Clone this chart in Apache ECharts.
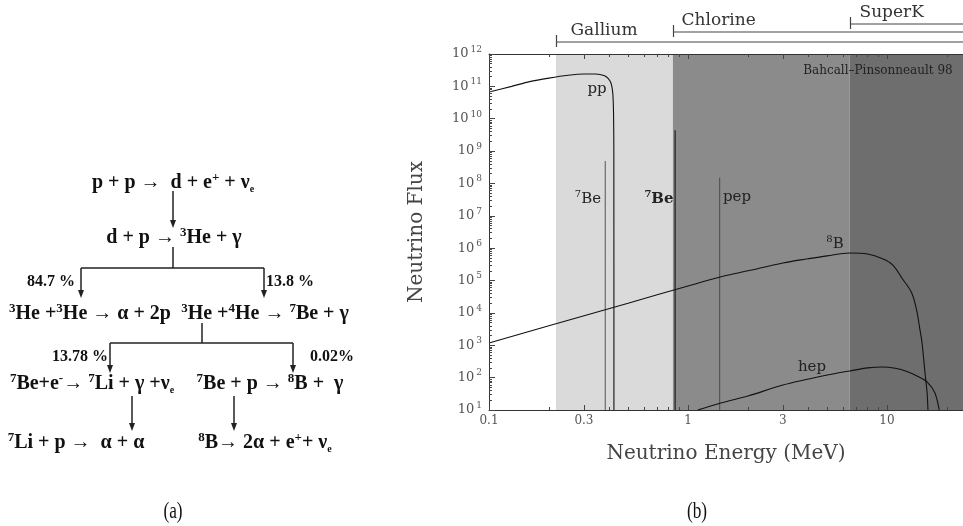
<!DOCTYPE html>
<html><head><meta charset="utf-8">
<script src="https://cdn.jsdelivr.net/npm/echarts@6/dist/echarts.min.js"></script>
<style>html,body{margin:0;padding:0;background:#fff}#c{width:963px;height:526px}</style>
</head><body><div id="c"></div>
<script>
// ---------- data ----------
const ppEnergy = [0.1, 0.13, 0.16, 0.2, 0.25, 0.3, 0.34, 0.37, 0.39, 0.405, 0.413, 0.419, 0.4225, 0.424, 0.4245];
const ppFlux   = [6.7e10, 1.0e11, 1.4e11, 1.8e11, 2.2e11, 2.4e11, 2.4e11, 2.25e11, 1.95e11, 1.5e11, 1.1e11, 6e10, 1.5e10, 1e9, 10];
const b8Energy = [0.1, 0.2, 0.5, 1, 1.5, 2, 3, 4, 5, 6.5, 8, 9.5, 10.7, 12, 13.3, 14.1, 14.6, 15, 15.6, 15.9, 16.07];
const b8Flux   = [1.17e3, 4.0e3, 2.0e4, 6.8e4, 1.35e5, 2.0e5, 3.5e5, 4.7e5, 5.8e5, 7.1e5, 6.6e5, 4.7e5, 3.0e5, 1.1e5, 4.2e4, 1.2e4, 3.4e3, 1.2e3, 105, 36, 10];
const hepEnergy = [1.12, 1.46, 2, 3, 5, 6.5, 8, 9.5, 11, 12.6, 14.5, 15.9, 17.4, 18.3];
const hepFlux   = [10, 16.5, 27, 59, 120, 161, 200, 214, 195, 155, 105, 74, 34, 10];
const lineNames  = ['7Be', '7Be', 'pep'];
const lineEnergy = [0.384, 0.862, 1.442];
const lineFlux   = [4.9e8, 4.4e9, 1.5e8];
const detectorNames     = ['Gallium', 'Chlorine', 'SuperK'];
const detectorThreshold = [0.217, 0.84, 6.5];
const xTickValues   = [0.1, 0.3, 1, 3, 10];
const xMinorValues  = [0.2, 0.4, 0.5, 0.6, 0.7, 0.8, 0.9, 2, 4, 5, 6, 7, 8, 9, 20];
const yTickExponents = [1, 2, 3, 4, 5, 6, 7, 8, 9, 10, 11, 12];
const xRange = [0.1, 24.1];
const yRange = [10, 1e12];
const sourceLabel = 'Bahcall\u2013Pinsonneault 98';

// ---------- styles ----------
const serif = '"Liberation Serif","Times New Roman",serif';
const slab = '"DejaVu Serif",serif';
const L = Math.log10;
const regionColors = ['#dadada', '#8b8b8b', '#6e6e6e'];

const chart = echarts.init(document.getElementById('c'), null, {renderer: 'canvas'});

const yMinor = [];
for (let n = yTickExponents[0]; n < yTickExponents[yTickExponents.length - 1]; n++)
  for (let k = 2; k <= 9; k++) yMinor.push(n + L(k));

const lx = [L(xRange[0]), L(xRange[1])];
const ly = [L(yRange[0]), L(yRange[1])];

function tickAxisX(position, vals, len, showLine, showLabel, extra) {
  return Object.assign({
    type: 'value', gridIndex: 0, position, min: lx[0], max: lx[1], z: 10,
    axisLine: {show: showLine, onZero: false, lineStyle: {color: '#333', width: 1}},
    axisTick: {show: true, inside: true, length: len, customValues: vals, lineStyle: {color: '#444'}},
    axisLabel: {show: showLabel, customValues: vals, margin: 5, fontFamily: slab, fontSize: 12, color: '#555',
      formatter: v => String(Number(Math.pow(10, v).toPrecision(2)))},
    splitLine: {show: false}, splitArea: {show: false}
  }, extra || {});
}
function tickAxisY(vals, len, showLine, showLabel, extra) {
  return Object.assign({
    type: 'value', gridIndex: 0, position: 'left', min: ly[0], max: ly[1], z: 10,
    axisLine: {show: showLine, onZero: false, lineStyle: {color: '#333', width: 1}},
    axisTick: {show: true, inside: true, length: len, customValues: vals, lineStyle: {color: '#444'}},
    axisLabel: {show: showLabel, customValues: vals, margin: 7, fontFamily: slab, fontSize: 13, color: '#555', lineHeight: 18,
      formatter: v => '10{s|' + Math.round(v) + '}',
      rich: {s: {fontSize: 9, fontFamily: slab, color: '#555', verticalAlign: 'top', padding: [0, 0, 0, 2]}}},
    splitLine: {show: false}, splitArea: {show: false}
  }, extra || {});
}

const majorX = xTickValues.map(L);
const minorX = xMinorValues.map(L);

const series = [];
series.push({
  type: 'line', xAxisIndex: 0, yAxisIndex: 0, z: 1, silent: true,
  data: [[xRange[0], yRange[0]]], symbol: 'none', lineStyle: {opacity: 0},
  markArea: {silent: true, data: detectorThreshold.map((t, i) => [
    {xAxis: t, itemStyle: {color: regionColors[i], opacity: 1, borderWidth: 0}},
    {xAxis: i + 1 < detectorThreshold.length ? detectorThreshold[i + 1] : xRange[1]}
  ])}
});
const lineColors = ['#6a6a6a', '#3a3a3a', '#555'];
const lineWidths = [1.2, 1.6, 1.2];
lineEnergy.forEach((e, i) => {
  series.push({type: 'line', name: lineNames[i], xAxisIndex: 0, yAxisIndex: 0, z: 3, symbol: 'none', silent: true,
    data: [[e, yRange[0]], [e, lineFlux[i]]], lineStyle: {color: lineColors[i], width: lineWidths[i]}});
});
function curve(name, xs, ys, smooth) {
  return {type: 'line', name, xAxisIndex: 0, yAxisIndex: 0, z: 4, symbol: 'none', silent: true, smooth,
    data: xs.map((x, i) => [x, ys[i]]), lineStyle: {color: '#111', width: 1.1}};
}
series.push(curve('pp', ppEnergy, ppFlux, 0.25));
series.push(curve('8B', b8Energy, b8Flux, 0.35));
series.push(curve('hep', hepEnergy, hepFlux, 0.3));

const option = {
  backgroundColor: '#fff',
  animation: false,
  grid: {left: 489, top: 54, right: 0, height: 356},
  xAxis: [
    {type: 'log', logBase: 10, min: xRange[0], max: xRange[1], show: false, gridIndex: 0, axisLine: {onZero: false}},
    tickAxisX('bottom', majorX, 5, true, true, {
      name: 'Neutrino Energy (MeV)', nameLocation: 'middle', nameGap: 34,
      nameTextStyle: {fontFamily: slab, fontSize: 20, color: '#444'}}),
    tickAxisX('bottom', minorX, 3, false, false),
    tickAxisX('top', majorX, 5, true, false),
    tickAxisX('top', minorX, 3, false, false)
  ],
  yAxis: [
    {type: 'log', logBase: 10, min: yRange[0], max: yRange[1], show: false, gridIndex: 0, axisLine: {onZero: false}},
    tickAxisY(yTickExponents, 6, true, true, {
      name: 'Neutrino Flux', nameLocation: 'middle', nameGap: 62,
      nameTextStyle: {fontFamily: slab, fontSize: 20, color: '#444'}}),
    tickAxisY(yMinor, 3, false, false)
  ],
  series
};
chart.setOption(option);

// ---------- graphics ----------
const g = [];
function T(x, y, text, font, extra, el) {
  return Object.assign({type: 'text', x, y, z: 20, silent: true, style: Object.assign({
    text, font, fill: '#111', align: 'center', verticalAlign: 'middle',
    textAlign: 'center', textVerticalAlign: 'middle'}, extra || {})}, el || {});
}
function seg(x1, y1, x2, y2, color, w) {
  return {type: 'line', z: 20, silent: true, shape: {x1, y1, x2, y2}, style: {stroke: color || '#222', lineWidth: w || 1.5}};
}
function arrow(x, y1, y2) {
  g.push(seg(x, y1, x, y2 - 6));
  g.push({type: 'polygon', z: 20, silent: true, shape: {points: [[x - 3, y2 - 8], [x + 3, y2 - 8], [x, y2]]}, style: {fill: '#222'}});
}
const rsz = 20;
const reactRich = {
  s: {fontSize: 13, fontWeight: 'bold', fontFamily: serif, fill: '#111', color: '#111', verticalAlign: 'top'},
  b: {fontSize: 10, fontWeight: 'bold', fontFamily: serif, fill: '#111', color: '#111', verticalAlign: 'bottom'}
};
function R(x, y, text, size) {
  g.push(T(x, y, text, 'bold ' + (size || rsz) + 'px ' + serif, {lineHeight: 23, rich: reactRich}));
}
// pp chain diagram (a)
R(173, 183, 'p + p \u2192  d + e{s|+} + \u03BD{b|e}');
arrow(173, 191, 228);
R(174, 238, 'd + p \u2192 {s|3}He + \u03B3');
g.push(seg(173, 247, 173, 268));
g.push(seg(81, 268, 264, 268));
arrow(81, 268, 298);
arrow(264, 268, 298);
R(51, 282, '84.7 %', 16);
R(290, 282, '13.8 %', 16);
R(90, 314, '{s|3}He +{s|3}He \u2192 \u03B1 + 2p');
R(265, 314, '{s|3}He +{s|4}He \u2192 {s|7}Be + \u03B3');
g.push(seg(202, 323, 202, 343));
g.push(seg(110, 343, 293, 343));
arrow(110, 343, 373);
arrow(293, 343, 373);
R(80, 357, '13.78 %', 16);
R(332, 357, '0.02%', 16);
R(92, 384, '{s|7}Be+e{s|-}\u2192 {s|7}Li + \u03B3 +\u03BD{b|e}');
R(270, 384, '{s|7}Be + p \u2192 {s|8}B +  \u03B3');
arrow(132, 396, 431);
arrow(234, 396, 431);
R(76, 443, '{s|7}Li + p \u2192  \u03B1 + \u03B1');
R(265, 443, '{s|8}B\u2192 2\u03B1 + e{s|+}+ \u03BD{b|e}');
g.push(T(173, 512, '(a)', '24px ' + serif, {fill: '#111'}, {scaleX: 0.72}));
g.push(T(697, 512, '(b)', '24px ' + serif, {fill: '#111'}, {scaleX: 0.72}));

// labels inside plot (b)
const lab = '15px ' + slab;
const labRich = {s: {fontSize: 10, fontFamily: slab, fill: '#222', color: '#222', verticalAlign: 'top'}};
g.push(T(597, 89, 'pp', lab, {fill: '#222'}));
g.push(T(588, 199, '{s|7}Be', lab, {fill: '#222', lineHeight: 20, rich: labRich}));
g.push(T(659, 199, '{s|7}Be', 'bold 15px ' + slab, {fill: '#222', lineHeight: 20,
  rich: {s: {fontSize: 10, fontWeight: 'bold', fontFamily: slab, fill: '#222', verticalAlign: 'top'}}}));
g.push(T(737, 197, 'pep', lab, {fill: '#222'}));
g.push(T(835, 244, '{s|8}B', lab, {fill: '#222', lineHeight: 20, rich: labRich}));
g.push(T(812, 367, 'hep', lab, {fill: '#222'}));
g.push(T(878, 71, sourceLabel, '12px ' + slab, {fill: '#222'}));

// detector bars above the plot, positioned from the x scale
const barY = [42, 32, 24];
const labelOffset = [14, 8, 9];
detectorThreshold.forEach((t, i) => {
  const px = Math.round(chart.convertToPixel({xAxisIndex: 0}, t)) + 0.5;
  g.push(seg(px, barY[i], 963, barY[i], '#444', 1.2));
  g.push(seg(px, barY[i] - 7, px, barY[i] + 5, '#444', 1.2));
  g.push(T(px + labelOffset[i], barY[i] - 11, detectorNames[i], '17px ' + slab,
    {fill: '#333', align: 'left', textAlign: 'left'}));
});

chart.setOption({graphic: {elements: g}});
</script>
</body></html>
